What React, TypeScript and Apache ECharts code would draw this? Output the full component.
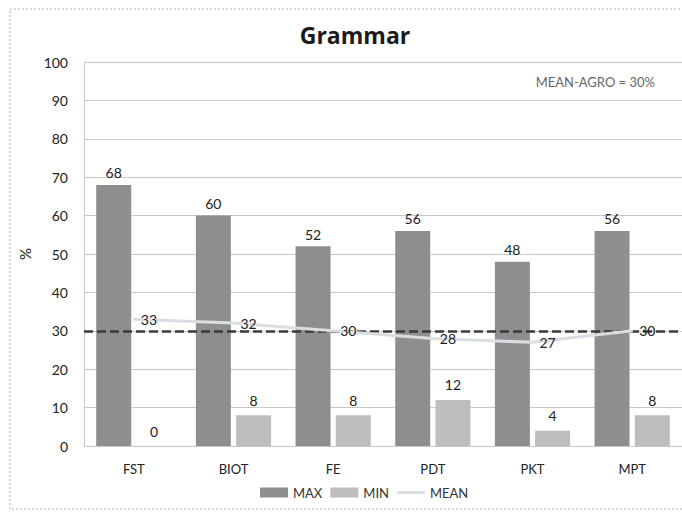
import React, { useEffect, useRef } from "react";
import * as echarts from "echarts";

const categories = ["FST", "BIOT", "FE", "PDT", "PKT", "MPT"];
const maxValues = [68, 60, 52, 56, 48, 56];
const minValues = [0, 8, 8, 12, 4, 8];
const meanValues = [33, 32, 30, 28, 27, 30];
const agroMean = 30;
const yTicks = { min: 0, max: 100, interval: 10 };

export default function App() {
  const ref = useRef<HTMLDivElement>(null);
  useEffect(() => {
    const chart = echarts.init(ref.current!, undefined, { renderer: "svg" });
    const font = "Lato, 'DejaVu Sans', sans-serif";
    chart.setOption({
      animation: false,
      backgroundColor: "#ffffff",
      title: {
        text: "Grammar",
        left: 350,
        textAlign: "center",
        top: 18,
        textStyle: { fontFamily: "'Open Sans', sans-serif", fontWeight: "bold", fontSize: 23, color: "#1a1a1a" },
      },
      graphic: [
        {
          type: "rect",
          shape: { x: 10, y: 9, width: 680, height: 500 },
          style: { fill: "none", stroke: "#b0b0b0", lineWidth: 1, lineDash: [2, 2] },
          silent: true,
        },
        {
          type: "text",
          x: 655,
          y: 82,
          style: {
            text: "MEAN-AGRO = 30%",
            textAlign: "right",
            textVerticalAlign: "middle",
            fontFamily: font,
            fontSize: 13,
            fill: "#666666",
          },
        },
      ],
      legend: {
        bottom: 12,
        left: 255,
        itemWidth: 28,
        itemHeight: 10,
        itemGap: 8,
        symbolKeepAspect: true,
        textStyle: { fontFamily: font, fontSize: 13, color: "#333" },
        data: [
          { name: "MAX", icon: "rect" },
          { name: "MIN", icon: "rect" },
          { name: "MEAN", icon: "path://M0,0h28v3h-28z" },
        ],
      },
      grid: { left: 84, top: 62, width: 600, height: 384 },
      xAxis: {
        type: "category",
        data: categories,
        axisTick: { show: false },
        axisLine: { show: true, lineStyle: { color: "#c8c8c8" } },
        axisLabel: { fontFamily: font, fontSize: 13, color: "#222", margin: 16 },
      },
      yAxis: {
        type: "value",
        min: yTicks.min,
        max: yTicks.max,
        interval: yTicks.interval,
        name: "%",
        nameLocation: "middle",
        nameGap: 52,
        nameTextStyle: { fontFamily: font, fontSize: 15, color: "#222" },
        axisLine: { show: true, lineStyle: { color: "#c8c8c8" } },
        axisTick: { show: false },
        splitLine: { lineStyle: { color: "#c8c8c8" } },
        axisLabel: { fontFamily: font, fontSize: 14, color: "#222", margin: 16 },
      },
      series: [
        {
          name: "MAX",
          type: "bar",
          data: maxValues,
          barWidth: 35,
          barGap: "15%",
          itemStyle: { color: "#8e8e8e" },
          label: { show: true, position: "top", fontFamily: font, fontSize: 14, color: "#222" },
        },
        {
          name: "MIN",
          type: "bar",
          data: minValues,
          barWidth: 35,
          itemStyle: { color: "#bdbdbd" },
          label: { show: true, position: "top", fontFamily: font, fontSize: 14, color: "#222", distance: 8 },
        },
        {
          name: "MEAN",
          type: "line",
          data: meanValues,
          symbol: "circle",
          symbolSize: 2,
          showSymbol: true,
          z: 5,
          lineStyle: { color: "#d9dee4", width: 3 },
          itemStyle: { color: "#d9dee4" },
          label: { show: true, position: "right", distance: 6, fontFamily: font, fontSize: 14, color: "#222" },
          markLine: {
            silent: true,
            symbol: "none",
            label: { show: false },
            lineStyle: { color: "#3a3a3a", type: [9, 4], width: 2.5 },
            data: [{ yAxis: agroMean }],
          },
        },
      ],
    });
    return () => chart.dispose();
  }, []);
  return <div ref={ref} style={{ position: "absolute", left: 0, top: 0, width: 682, height: 516 }} />;
}
